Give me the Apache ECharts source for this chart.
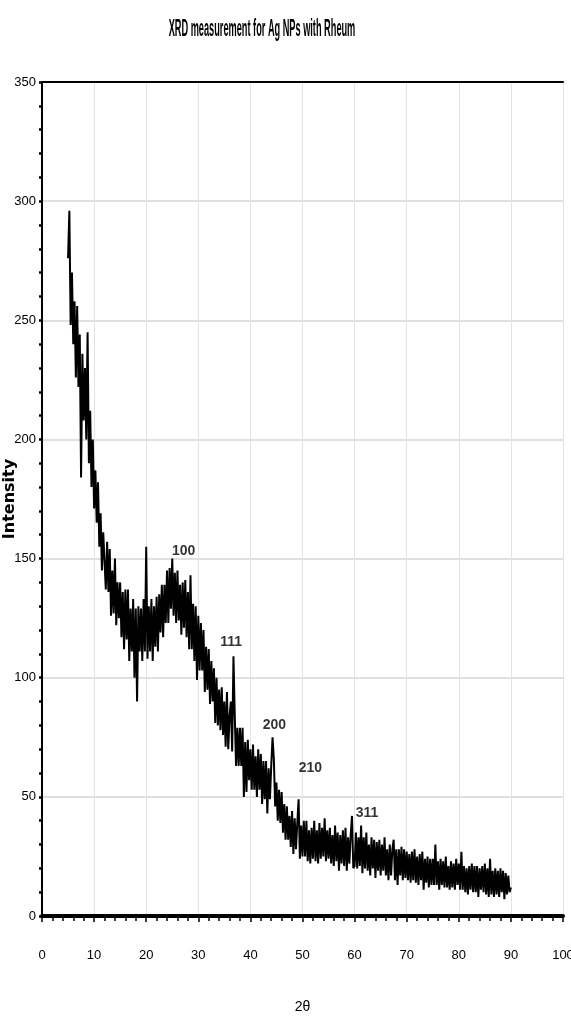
<!DOCTYPE html>
<html>
<head>
<meta charset="utf-8">
<title>XRD measurement for Ag NPs with Rheum</title>
<script src="https://cdn.jsdelivr.net/npm/echarts@6/dist/echarts.min.js"></script>
<style>
  html, body { margin: 0; padding: 0; background: #fff; }
  #chart { width: 571px; height: 1019px; }
</style>
</head>
<body>
<div id="chart"></div>
<script>
// 2θ sampling of the scan (degrees)
const angleStart = 5
const angleStep = 0.25

// intensity readings, one row per 5 degrees (5 ... 89.75), then 90
const intensity = [
  276, 296, 248, 270, 240, 258, 226, 256, 222, 244, 184, 236, 208, 230, 200, 245, 190, 212, 180, 200,
  171, 187, 165, 182, 155, 169, 145, 161, 161, 137, 157, 136, 154, 126, 145, 127, 150, 122, 140, 125,
  140, 117, 136, 112, 137, 116, 137, 107, 129, 111, 133, 100, 129, 90, 130, 111, 129, 107, 133, 111,
  155, 108, 130, 111, 133, 107, 130, 113, 134, 111, 135, 119, 139, 117, 139, 123, 145, 123, 146, 129,
  150, 126, 144, 123, 145, 124, 139, 118, 140, 121, 141, 117, 136, 112, 143, 112, 131, 107, 130, 99,
  126, 103, 123, 103, 120, 94, 113, 95, 112, 89, 107, 90, 104, 81, 100, 80, 95, 78, 96, 76,
  90, 71, 94, 70, 84, 90, 69, 109, 84, 63, 79, 63, 79, 63, 79, 50, 73, 52, 74, 57,
  70, 53, 72, 53, 67, 50, 70, 53, 68, 47, 65, 49, 65, 43, 62, 49, 63, 75, 66, 46,
  56, 40, 53, 39, 52, 35, 47, 32, 46, 32, 42, 29, 44, 26, 41, 28, 39, 49, 24, 38,
  25, 40, 25, 40, 23, 36, 22, 37, 24, 40, 23, 36, 22, 39, 24, 37, 25, 41, 23, 36,
  24, 37, 22, 34, 21, 38, 23, 35, 19, 34, 22, 36, 21, 37, 19, 33, 22, 34, 42, 20,
  21, 35, 20, 33, 21, 38, 18, 33, 20, 35, 19, 30, 17, 33, 20, 32, 16, 31, 19, 32,
  17, 30, 19, 33, 17, 28, 15, 30, 17, 28, 32, 15, 28, 13, 28, 17, 29, 15, 28, 16,
  27, 15, 26, 14, 27, 15, 28, 14, 25, 13, 26, 15, 27, 11, 24, 14, 25, 12, 24, 13,
  24, 13, 30, 13, 23, 11, 24, 13, 23, 12, 25, 12, 21, 11, 23, 12, 22, 11, 24, 13,
  22, 11, 27, 11, 21, 10, 20, 9, 21, 11, 22, 10, 21, 10, 21, 8, 20, 11, 21, 10,
  22, 9, 20, 8, 24, 9, 19, 8, 20, 9, 19, 8, 20, 10, 19, 7, 18, 9, 17, 10,
  12
]

// peak annotations (Miller indices) and where their text sits
const peakLabels = ['100', '111', '200', '210', '311']
const peakX = [27.2, 36.3, 44.6, 51.5, 62.4]
const peakY = [153, 115, 80, 62, 43]

const xTicks = { min: 0, max: 100, interval: 10 }
const yTicks = { min: 0, max: 350, interval: 50 }

const sans = '"Liberation Sans", Arial, sans-serif'

const scan = intensity.map((v, i) => [angleStart + i * angleStep, v])
const peaks = peakLabels.map((name, i) => ({ name: name, value: [peakX[i], peakY[i]] }))

const chart = echarts.init(document.getElementById('chart'), null, { renderer: 'canvas' })

const option = {
  animation: false,
  backgroundColor: '#fff',
  graphic: [{
    type: 'text',
    x: 262,
    y: 30,
    scaleX: 0.4,
    style: {
      text: 'XRD measurement for Ag NPs with Rheum',
      font: 'bold 23px ' + sans,
      fill: '#000',
      align: 'center',
      verticalAlign: 'middle'
    }
  }],
  grid: {
    left: 42,
    right: 8,
    top: 82,
    bottom: 103,
    outerBoundsMode: 'none',
    containLabel: false
  },
  xAxis: [{
    type: 'value',
    min: xTicks.min,
    max: xTicks.max,
    interval: xTicks.interval,
    name: '2θ',
    nameLocation: 'middle',
    nameGap: 84,
    nameTextStyle: { color: '#000', fontSize: 14, fontFamily: sans },
    axisLine: { onZero: false, lineStyle: { color: '#000', width: 4 } },
    axisTick: { show: true, length: 6, lineStyle: { color: '#000', width: 1.5 } },
    minorTick: { show: true, splitNumber: 5, length: 5, lineStyle: { color: '#000', width: 1.5 } },
    axisLabel: { color: '#000', fontSize: 13, fontFamily: sans, margin: 33 },
    splitLine: { show: true, lineStyle: { color: '#e3e3e3', width: 1 } }
  }, {
    // top frame line
    type: 'value',
    position: 'top',
    min: xTicks.min,
    max: xTicks.max,
    axisLine: { show: true, onZero: false, lineStyle: { color: '#000', width: 2 } },
    axisTick: { show: false },
    axisLabel: { show: false },
    splitLine: { show: false }
  }],
  yAxis: {
    type: 'value',
    min: yTicks.min,
    max: yTicks.max,
    interval: yTicks.interval,
    name: 'Intensity',
    nameLocation: 'middle',
    nameGap: 24,
    nameMoveOverlap: false,
    nameTextStyle: { color: '#000', fontSize: 16, fontWeight: 'bold', fontFamily: 'DejaVu Sans' },
    axisLine: { show: true, onZero: false, lineStyle: { color: '#000', width: 2 } },
    axisTick: { show: true, length: 3, lineStyle: { color: '#000', width: 2.5 } },
    minorTick: { show: true, splitNumber: 5, length: 3, lineStyle: { color: '#000', width: 2.5 } },
    axisLabel: { color: '#000', fontSize: 13, fontFamily: sans, margin: 6 },
    splitLine: { show: true, lineStyle: { color: '#d6d6d6', width: 1.5 } }
  },
  series: [{
    name: 'XRD',
    type: 'line',
    data: scan,
    showSymbol: false,
    silent: true,
    lineStyle: { color: '#000', width: 2 }
  }, {
    name: 'peaks',
    type: 'scatter',
    data: peaks,
    symbolSize: 0,
    silent: true,
    label: {
      show: true,
      position: 'inside',
      formatter: '{b}',
      color: '#000',
      fontSize: 14,
      fontWeight: 'bold',
      fontFamily: sans
    }
  }]
}

chart.setOption(option)
</script>
</body>
</html>
